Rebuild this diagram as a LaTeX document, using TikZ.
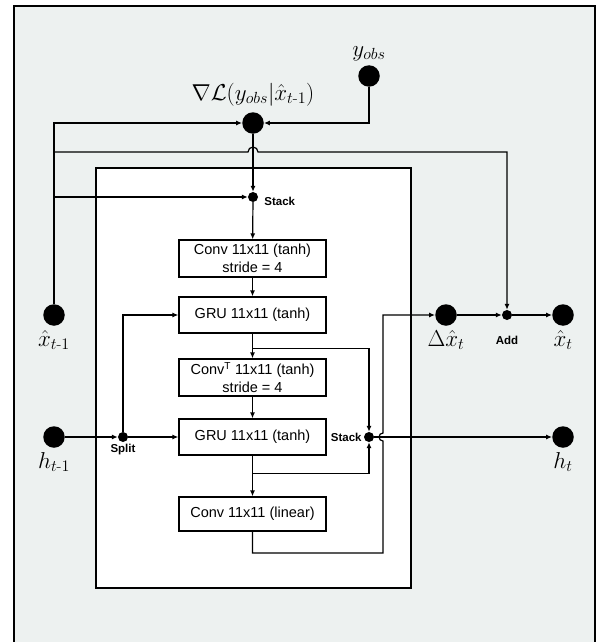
\RequirePackage{fix-cm}
\documentclass[tikz,border=0pt]{standalone}
\usepackage{fontspec}
\setsansfont{Liberation Sans}
\usepackage{amsmath}
\usetikzlibrary{arrows.meta,positioning,calc}
\definecolor{panelgray}{HTML}{EDF1F0}
\tikzset{
  layer/.style={draw, line width=1.2pt, fill=white, minimum width=147pt, minimum height=36pt, inner sep=0pt, align=center, font=\sffamily\fontsize{14.5}{17.5}\selectfont},
  var/.style={circle, fill=black, minimum size=21.5pt, inner sep=0pt},
  op/.style={circle, fill=black, minimum size=10pt, inner sep=0pt},
  oplabel/.style={inner sep=0pt, font=\sffamily\bfseries\fontsize{11.5}{13}\selectfont},
  varlabel/.style={inner sep=0pt, font=\fontsize{23}{27}\selectfont},
  flow/.style={line width=1.2pt, -{Latex[length=6pt,width=5pt]}},
  wire/.style={line width=1.2pt}
}

\begin{document}
\begin{tikzpicture}[x=1pt,y=-1pt]
\useasboundingbox (0,0) rectangle (600,642);
\begin{scope}
\clip (0,0) rectangle (600,642);
\draw[line width=1.8pt, fill=panelgray] (14,6) rectangle (595,660);
\end{scope}
\draw[line width=1.2pt, fill=white] (96,168) rectangle (411,588);

\node[var] (yobs) at (369,76) {};
\node[var] (grad) at (253,123) {};
\node[var] (xprev) at (54,315) {};
\node[var] (hprev) at (54,437) {};
\node[var] (dx) at (446,315) {};
\node[var] (xnext) at (563,315) {};
\node[var] (hnext) at (563,437) {};
\node[op] (stackin) at (253,197) {};
\node[op] (split) at (123,437) {};
\node[op] (stackout) at (369,437) {};
\node[op] (add) at (507,315) {};

\node[layer, minimum height=37pt] (conv) at (252.5,258.5) {Conv 11x11 (tanh)\\ stride = 4};
\node[layer] (gruA) at (252.5,315) {GRU 11x11 (tanh)};
\node[layer, minimum height=37pt] (deconv) at (252.5,377.5) {Conv\textsuperscript{T} 11x11 (tanh)\\ stride = 4};
\node[layer] (gruB) at (252.5,437) {GRU 11x11 (tanh)};
\node[layer, minimum height=34pt] (lin) at (252.5,514) {Conv 11x11 (linear)};

\node[varlabel, above=4pt of yobs] (yobslbl) {$y_{obs}$};
\node[varlabel, above=6pt of grad] (gradlbl) {$\nabla\mathcal{L}(y_{obs}|\hat{x}_{t\text{-}1})$};
\node[varlabel, below=4pt of xprev] (xprevlbl) {$\hat{x}_{t\text{-}1}$};
\node[varlabel, below=4pt of hprev] (hprevlbl) {$h_{t\text{-}1}$};
\node[varlabel, below=4pt of dx] (dxlbl) {$\Delta\hat{x}_t$};
\node[varlabel, below=4pt of xnext] (xnextlbl) {$\hat{x}_t$};
\node[varlabel, below=4pt of hnext] (hnextlbl) {$h_t$};
\node[oplabel, right=6pt of stackin, yshift=-4pt] (stackinlbl) {Stack};
\node[oplabel, left=2pt of stackout] (stackoutlbl) {Stack};
\node[oplabel, below=2pt of split] (splitlbl) {Split};
\node[oplabel, below=16pt of add] (addlbl) {Add};

\coordinate (gradbus) at (54,152);
\coordinate (bypass) at (383,553);

\draw[flow] (yobs) |- (grad);
\draw[flow] (xprev) |- (grad);
\draw[flow] (xprev) |- (stackin);
\draw[flow] (gradbus) -- ($(grad |- gradbus)+(-5,0)$) arc[start angle=180, end angle=0, radius=5pt] -| (add);
\draw[flow] (grad) -- (stackin);
\draw[flow] (stackin) -- (conv);
\draw[flow] (conv) -- (gruA);
\draw[flow] (gruA) -- (deconv);
\draw[flow] (deconv) -- (gruB);
\draw[flow] (gruB) -- (lin);
\draw[flow] (hprev) -- (split);
\draw[flow] (split) -- (gruB);
\draw[flow] (split) |- (gruA);
\draw[flow] ($(gruA.south)+(0,15)$) -| (stackout);
\draw[flow] ($(gruB.south)+(0,18)$) -| (stackout);
\draw[flow] (stackout) -- (hnext);
\draw[flow] (lin.south) |- (bypass) -- ($(bypass |- stackout)+(0,4)$) arc[start angle=270, end angle=90, radius=4pt] |- (dx);
\draw[flow] (dx) -- (add);
\draw[flow] (add) -- (xnext);
\end{tikzpicture}
\end{document}
